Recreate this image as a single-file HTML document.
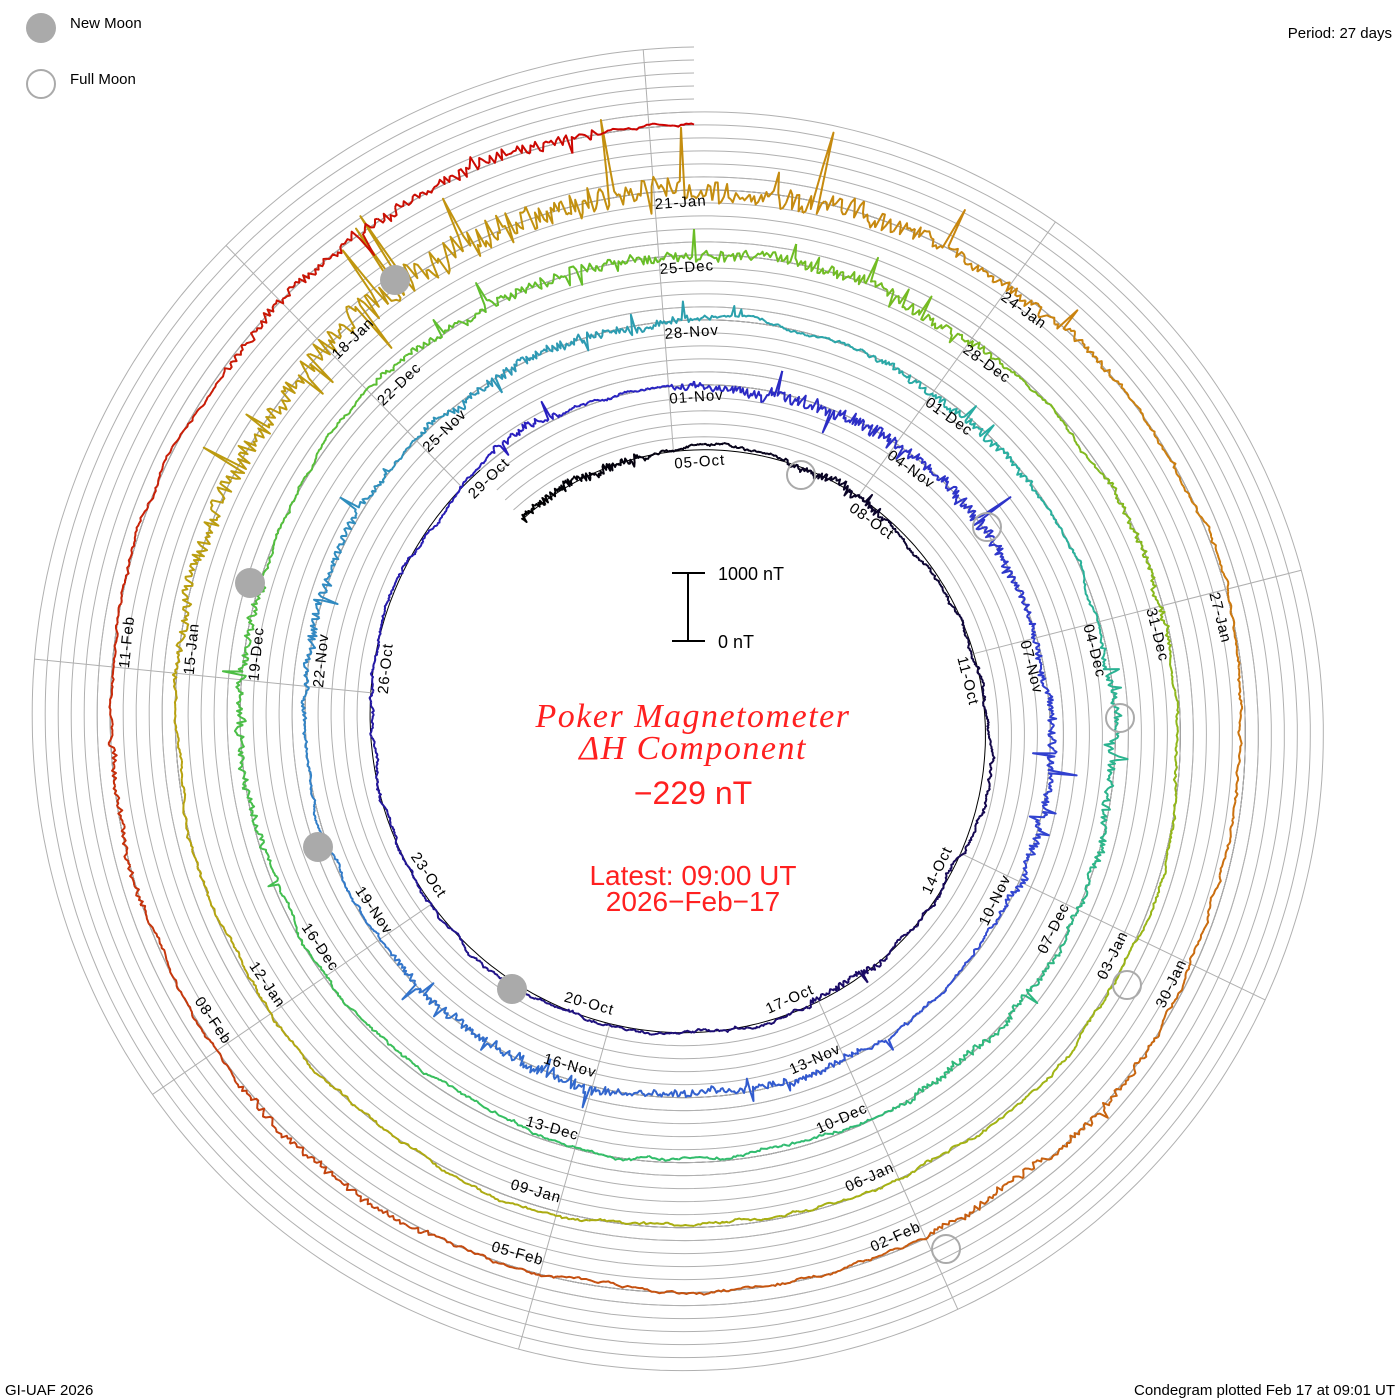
<!DOCTYPE html>
<html><head><meta charset="utf-8"><style>
html,body{margin:0;padding:0;background:#fff;}
svg{display:block;font-family:"Liberation Sans",sans-serif;}
</style></head><body>
<svg id="s" width="1400" height="1400" viewBox="0 0 1400 1400" xmlns="http://www.w3.org/2000/svg">
<rect width="1400" height="1400" fill="#fff"/>
<g id="grid"></g>
<g id="trace"></g>
<g id="labels" font-size="15" fill="#000"></g>
<g fill="#aaa" stroke="none">
<circle cx="41" cy="28" r="15"/>
<circle cx="395" cy="280" r="15"/>
<circle cx="250" cy="583" r="15"/>
<circle cx="318" cy="847" r="15"/>
<circle cx="512" cy="989" r="15"/>
</g>
<g fill="none" stroke="#aaa" stroke-width="2">
<circle cx="41" cy="84" r="14"/>
<circle cx="801" cy="475" r="14"/>
<circle cx="987" cy="527" r="14"/>
<circle cx="1120" cy="718" r="14"/>
<circle cx="1127" cy="985" r="14"/>
<circle cx="946" cy="1249" r="14"/>
</g>
<text x="70" y="28" font-size="15">New Moon</text>
<text x="70" y="84" font-size="15">Full Moon</text>
<text x="1392" y="38" font-size="15" text-anchor="end">Period: 27 days</text>
<text x="5" y="1395" font-size="15">GI-UAF 2026</text>
<text x="1395" y="1395" font-size="15" text-anchor="end">Condegram plotted Feb 17 at 09:01 UT</text>
<g stroke="#000" stroke-width="2">
<line x1="688" y1="573" x2="688" y2="641"/>
<line x1="672" y1="573" x2="705" y2="573"/>
<line x1="672" y1="641" x2="705" y2="641"/>
</g>
<text x="718" y="580" font-size="18">1000 nT</text>
<text x="718" y="648" font-size="18">0 nT</text>
<g fill="#ff2020" text-anchor="middle">
<text x="693" y="727" font-size="34" font-style="italic" font-family="Liberation Serif,serif" letter-spacing="1.5">Poker Magnetometer</text>
<text x="693" y="759" font-size="34" font-style="italic" font-family="Liberation Serif,serif" letter-spacing="1.5">ΔH Component</text>
<text x="693" y="804" font-size="32">−229 nT</text>
<text x="693" y="885" font-size="28">Latest: 09:00 UT</text>
<text x="693" y="911" font-size="28">2026−Feb−17</text>
</g>
</svg>
<script>
(function(){
var NS="http://www.w3.org/2000/svg";
var cx=694,cy=725,r0=275,pitch=65;
function R(p){return r0+pitch*p/360;}
function pt(p,r){var a=p*Math.PI/180;return [cx+r*Math.sin(a),cy-r*Math.cos(a)];}
function el(t,attrs,parent){var e=document.createElementNS(NS,t);for(var k in attrs)e.setAttribute(k,attrs[k]);parent.appendChild(e);return e;}
var grid=document.getElementById("grid"),trace=document.getElementById("trace"),labels=document.getElementById("labels");
for(var o=0;o<=78;o+=13){
  var d="";for(var p=-40;p<=1800;p+=1){var q=pt(p,R(p)+o);d+=(p==-40?"M":"L")+q[0].toFixed(1)+" "+q[1].toFixed(1);}
  el("path",{d:d,fill:"none",stroke:o==0?"#000":"#b0b0b0","stroke-width":1},grid);
}
for(var k=0;k<9;k++){
  var a=-4.3+40*k;var a0=a<0?a+360:a;
  var ri=R(a0<320?a0:a0-360);
  var ro=(a0+1440>1800)?R(a0+1080)+78:R(a0+1440)+78;
  var p1=pt(a,ri),p2=pt(a,ro);
  el("line",{x1:p1[0],y1:p1[1],x2:p2[0],y2:p2[1],stroke:"#b0b0b0","stroke-width":1},grid);
}
var names=[
["05-Oct","08-Oct","11-Oct","14-Oct","17-Oct","20-Oct","23-Oct","26-Oct","29-Oct"],
["01-Nov","04-Nov","07-Nov","10-Nov","13-Nov","16-Nov","19-Nov","22-Nov","25-Nov"],
["28-Nov","01-Dec","04-Dec","07-Dec","10-Dec","13-Dec","16-Dec","19-Dec","22-Dec"],
["25-Dec","28-Dec","31-Dec","03-Jan","06-Jan","09-Jan","12-Jan","15-Jan","18-Jan"],
["21-Jan","24-Jan","27-Jan","30-Jan","02-Feb","05-Feb","08-Feb","11-Feb",""]];
for(var n=0;n<5;n++)for(var k=0;k<9;k++){
  if(!names[n][k])continue;
  var a=-4.3+40*k;var phi=a+360*n;var r=R(phi)-13;var q=pt(a,r);
  var top=Math.cos(a*Math.PI/180)>=-0.05;
  var rot=top?a:a-180;
  var t=el("text",{x:q[0].toFixed(1),y:q[1].toFixed(1),"text-anchor":top?"start":"end","dominant-baseline":"middle","letter-spacing":"1",transform:"rotate("+rot.toFixed(1)+" "+q[0].toFixed(1)+" "+q[1].toFixed(1)+")"},labels);
  t.textContent=names[n][k];
}
var stops=[[0,[0,0,0]],[0.1,[26,10,100]],[0.2,[40,30,190]],[0.28,[50,70,210]],[0.36,[50,130,200]],[0.44,[40,175,160]],[0.52,[50,190,100]],[0.6,[100,190,40]],[0.68,[160,180,20]],[0.76,[185,160,15]],[0.84,[205,125,15]],[0.92,[195,70,15]],[1,[205,0,0]]];
function col(t){for(var i=1;i<stops.length;i++){if(t<=stops[i][0]){var a=stops[i-1],b=stops[i],f=(t-a[0])/(b[0]-a[0]);var c=a[1].map(function(v,j){return Math.round(v+(b[1][j]-v)*f);});return "rgb("+c.join(",")+")";}}return "rgb(205,0,0)";}
var seed=98765;function rnd(){seed=(seed*1664525+1013904223)>>>0;return seed/4294967296;}
var act=[[-25,20,30],[30,20,20],[150,20,15],[330,10,20],[375,25,30],[400,30,25],[420,20,20],[460,30,25],[525,25,20],[555,20,20],[575,25,25],[650,25,30],[700,30,30],[760,25,20],[820,30,25],[860,20,20],[990,25,25],[1060,30,30],[1100,30,30],[1150,25,15],[1390,40,55],[1430,40,85],[1470,25,35],[1580,25,20],[1660,20,20],[1700,20,15],[1765,25,30],[1785,10,25]];
function activity(p){var s=3;for(var i=0;i<act.length;i++){var dd=(p-act[i][0])/act[i][1];if(Math.abs(dd)<1)s+=act[i][2]*(1-dd*dd);}return s;}
var x=0,pts=[];
for(var p=-40;p<=1800;p+=0.25){
  var A=activity(p);
  x+= (rnd()-0.5)*1.6 - x*0.02;
  var v=x*1.3+(rnd()-0.5)*1.2;
  if(rnd()<A/1000){v+= (rnd()-0.4)*A*1.6;}
  if(A>15) v+=(rnd()-0.5)*A*0.3;
  pts.push([p,v]);
}
var seg=8;
for(var i=0;i<pts.length-1;i+=seg){
  var d="";for(var j=i;j<=Math.min(i+seg,pts.length-1);j++){var q=pt(pts[j][0],R(pts[j][0])+pts[j][1]);d+=(j==i?"M":"L")+q[0].toFixed(1)+" "+q[1].toFixed(1);}
  el("path",{d:d,fill:"none",stroke:col((pts[i][0]+40)/1840),"stroke-width":2,"stroke-linejoin":"round"},trace);
}
})();
</script>
</body></html>
